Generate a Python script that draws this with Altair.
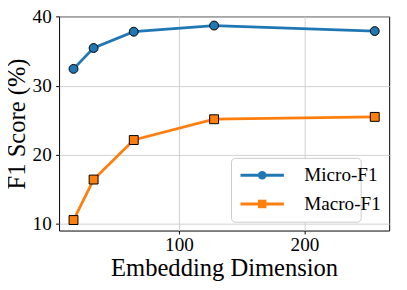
import altair as alt
import pandas as pd

dims = [16, 32, 64, 128, 256]
micro_f1 = [32.45, 35.47, 37.83, 38.72, 37.92]
macro_f1 = [10.57, 16.43, 22.15, 25.16, 25.5]
series_names = ["Micro-F1", "Macro-F1"]
line_keys = ["micro", "macro"]
series_colors = ["#1f77b4", "#ff7f0e"]
series_shapes = ["circle", "square"]
x_ticks = [100, 200]
y_ticks = [10, 20, 30, 40]

rows = []
for d, v in zip(dims, micro_f1):
    rows.append({"dim": d, "f1": v, "series": "Micro-F1", "key": "micro"})
for d, v in zip(dims, macro_f1):
    rows.append({"dim": d, "f1": v, "series": "Macro-F1", "key": "macro"})
df = pd.DataFrame(rows)

FONT = "Liberation Serif"

x_enc = alt.X(
    "dim:Q",
    scale=alt.Scale(domain=[4.5, 267.5], nice=False, zero=False),
    axis=alt.Axis(values=x_ticks, title="Embedding Dimension", labelPadding=2,
                  labelFont=FONT, labelFontSize=19.5, titleFont=FONT, titleFontSize=25,
                  titleY=46, titleBaseline="alphabetic"),
)
y_enc = alt.Y(
    "f1:Q",
    scale=alt.Scale(domain=[9.05, 40.05], nice=False, zero=False),
    axis=alt.Axis(values=y_ticks, title="F1 Score (%)", labelPadding=4.5,
                  labelFont=FONT, labelFontSize=19.5, titleFont=FONT, titleFontSize=25,
                  titleX=-35, titleY=109, titleAngle=270, titleAlign="center",
                  titleBaseline="alphabetic"),
)

LX, LY = 175, 144
common_legend = dict(
    orient="none", legendX=LX, legendY=LY, padding=8, title=None,
    labelFont=FONT, labelFontSize=19.5, symbolSize=75,
    symbolOffset=14, labelOffset=33, rowPadding=8.2,
)

line_legend = alt.Legend(
    **common_legend,
    symbolType="M-5.1,0L5.1,0",
    symbolStrokeWidth=3,
    labelOpacity=0,
    fillColor="white",
    strokeColor="#cccccc",
    cornerRadius=4,
)
point_legend = alt.Legend(
    **common_legend,
    symbolStrokeColor="black",
    symbolStrokeWidth=1,
    labelColor="black",
)

line = alt.Chart(df).mark_line(strokeWidth=2.8).encode(
    x=x_enc,
    y=y_enc,
    color=alt.Color("key:N", scale=alt.Scale(domain=line_keys, range=series_colors),
                    legend=line_legend),
)

points = alt.Chart(df).mark_point(filled=True, stroke="black", strokeWidth=1, opacity=1, size=82).encode(
    x=x_enc,
    y=y_enc,
    fill=alt.Fill("series:N", scale=alt.Scale(domain=series_names, range=series_colors),
                  legend=point_legend),
    shape=alt.Shape("series:N", scale=alt.Scale(domain=series_names, range=series_shapes),
                    legend=point_legend),
)

chart = alt.layer(line, points).properties(
    width=336, height=218,
    autosize=alt.AutoSizeParams(type="none"),
    padding={"left": 52, "top": 6, "right": 10, "bottom": 58},
).configure_view(
    stroke="black", strokeWidth=1
).configure_axis(
    labelFont=FONT, titleFont=FONT, labelFontSize=19.5, titleFontSize=25,
    labelColor="black", titleColor="black", titleFontWeight="normal",
    domain=False, tickColor="black", tickSize=3.5, tickWidth=1,
    gridColor="#d0d0d0", gridWidth=1,
)

chart.save("out.html", embed_options={"renderer": "svg", "actions": False})
